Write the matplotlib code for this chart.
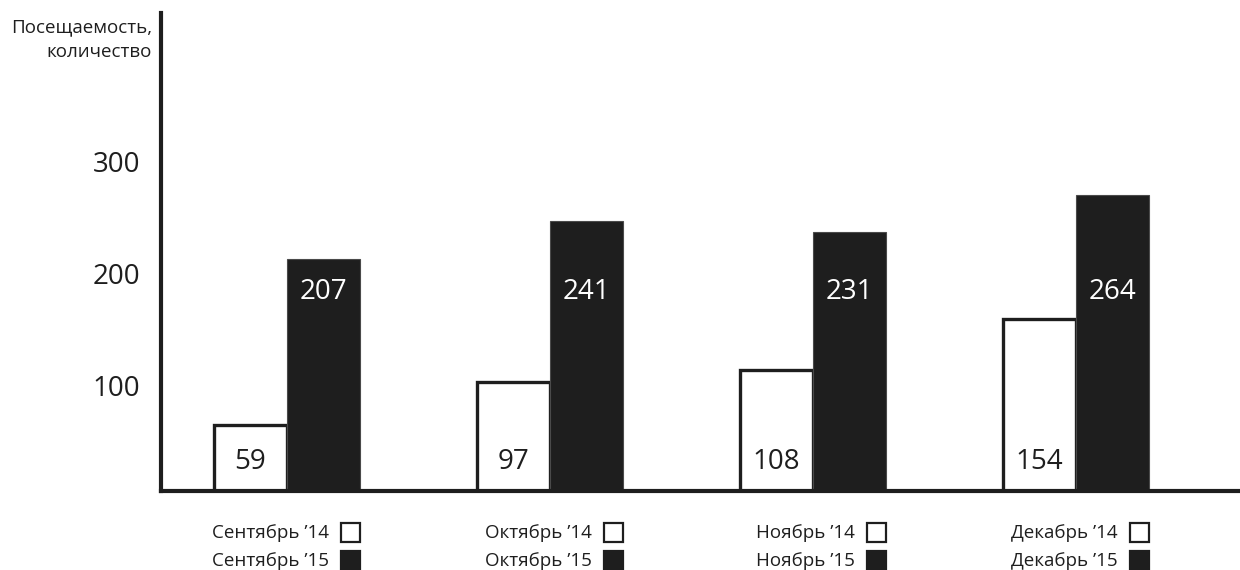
import matplotlib
matplotlib.use("Agg")
import matplotlib.pyplot as plt
import matplotlib.transforms as mtransforms
from matplotlib.patches import Rectangle

# Monthly attendance, 2014 vs 2015
months = ["Сентябрь", "Октябрь", "Ноябрь", "Декабрь"]
visits_2014 = [59, 97, 108, 154]
visits_2015 = [207, 241, 231, 264]
year_tags = ["’14", "’15"]
y_ticks = [100, 200, 300]
y_title = "Посещаемость,\nколичество"

INK = "#1e1e1e"
FONT = ["Open Sans", "DejaVu Sans"]
plt.rcParams["font.family"] = FONT

W, H, DPI = 1240, 570, 100
fig = plt.figure(figsize=(W / DPI, H / DPI), dpi=DPI)
fig.patch.set_facecolor("white")

ax_left, ax_right, ax_bottom, ax_top = 161, 1240, 491, 13
ax = fig.add_axes([ax_left / W, 1 - ax_bottom / H,
                   (ax_right - ax_left) / W, (ax_bottom - ax_top) / H])

group_step_px = 263.0
bar_w = 73.0 / group_step_px
x = list(range(len(months)))
ax.set_xlim(-(287 - ax_left) / group_step_px, (ax_right - 287) / group_step_px)
ax.set_ylim(0, 427)

ax.bar([i - bar_w / 2 for i in x], visits_2014, width=bar_w,
       facecolor="white", edgecolor=INK, linewidth=2.4, zorder=2)
ax.bar([i + bar_w / 2 for i in x], visits_2015, width=bar_w,
       facecolor=INK, edgecolor="#4a4a4a", linewidth=0.8, zorder=2)

for i, v in zip(x, visits_2014):
    ax.text(i - bar_w / 2, 26, str(v), ha="center", va="center",
            fontsize=20, color=INK, zorder=3)
for i, v in zip(x, visits_2015):
    ax.text(i + bar_w / 2, 178, str(v), ha="center", va="center",
            fontsize=20, color="white", zorder=3)

# axes styling
for side in ("top", "right"):
    ax.spines[side].set_visible(False)
ax.spines["left"].set_linewidth(3.0)
ax.spines["bottom"].set_linewidth(3.0)
ax.spines["left"].set_color(INK)
ax.spines["bottom"].set_color(INK)
ax.set_xticks([])
ax.set_yticks(y_ticks)
ax.set_yticklabels([str(t) for t in y_ticks], fontsize=20, color=INK)
ax.tick_params(axis="y", length=0, pad=15)
shift = mtransforms.ScaledTranslation(0, -6 / DPI, fig.dpi_scale_trans)
for lbl in ax.get_yticklabels():
    lbl.set_transform(lbl.get_transform() + shift)

fig.text(152 / W, 1 - 18 / H, y_title, ha="right", va="top",
         fontsize=13.5, color=INK, linespacing=1.5)

# per-month key below the axis
blend = mtransforms.blended_transform_factory(ax.transData, ax.transAxes)
ax_h = ax_bottom - ax_top
box_px = 19
box_w = box_px / group_step_px
rows_top_px = [523, 551]
for i, m in zip(x, months):
    box_right = i + bar_w
    for r, (top_px, tag) in enumerate(zip(rows_top_px, year_tags)):
        y0 = -(top_px + box_px - ax_bottom) / ax_h
        hgt = box_px / ax_h
        ax.add_patch(Rectangle((box_right - box_w, y0), box_w, hgt,
                               transform=blend, clip_on=False,
                               facecolor="white" if r == 0 else INK,
                               edgecolor=INK, linewidth=1.6))
        ax.text(box_right - box_w - 12 / group_step_px, y0 + hgt / 2,
                f"{m} {tag}", transform=blend, ha="right", va="center",
                fontsize=13.5, color=INK, clip_on=False)

fig.savefig("out.png", dpi=DPI, facecolor="white")
